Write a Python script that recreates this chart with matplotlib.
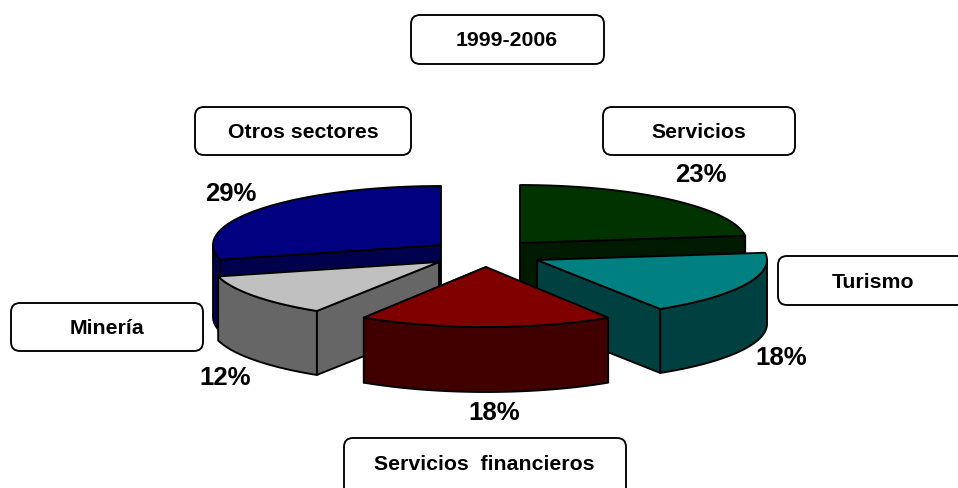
import matplotlib
matplotlib.use('Agg')
import matplotlib.pyplot as plt
import numpy as np
from matplotlib.patches import FancyBboxPatch, Polygon

plt.rcParams['font.family'] = ['Liberation Sans', 'DejaVu Sans']

# values
sectors = ['Servicios', 'Turismo', 'Servicios  financieros', 'Minería', 'Otros sectores']
shares = [23, 18, 18, 12, 29]
title = '1999-2006'

# look of each slice
top_colors = ['#003300', '#008080', '#800000', '#c0c0c0', '#000080']
side_colors = ['#001a00', '#004040', '#400000', '#666666', '#00004d']
apex_x = [520, 537, 486, 439, 441]
apex_y = [243, 260, 267, 262, 245]
radius_x = [227, 230, 228, 228, 228]
radius_y = [58, 58, 60, 58, 59]
depth = [65, 64, 65, 64, 72]
draw_order = [0, 4, 1, 3, 2]

# pixel positions of the texts
pct_pos = [(701, 175), (781, 358), (494, 413), (225, 378), (231, 194)]
box_pos = [(603, 107, 192, 48), (778, 256, 200, 49), (344, 438, 282, 70),
           (11, 303, 192, 48), (195, 107, 216, 48)]
label_pos = [(699, 133), (873, 282), (484, 465), (107, 329), (303, 133)]

fig = plt.figure(figsize=(9.58, 4.88), dpi=100)
ax = fig.add_axes([0, 0, 1, 1])
ax.set_xlim(0, 958)
ax.set_ylim(488, 0)
ax.axis('off')

lw = 1.35
ends = np.cumsum(shares) / np.sum(shares) * 2 * np.pi
starts = np.concatenate([[0], ends[:-1]])


def rim(i, a):
    return apex_x[i] + radius_x[i] * np.sin(a), apex_y[i] - radius_y[i] * np.cos(a)


def face(pts, color):
    ax.add_patch(Polygon(pts, closed=True, facecolor=color, edgecolor='black',
                         linewidth=lw, joinstyle='round'))


for i in draw_order:
    a = np.linspace(starts[i], ends[i], 80)
    x, y = rim(i, a)
    d = depth[i]
    cx, cy = apex_x[i], apex_y[i]
    # only the cut face nearest the viewer shows
    k = 0 if y[0] > y[-1] else -1
    face([(cx, cy), (x[k], y[k]), (x[k], y[k] + d), (cx, cy + d)], side_colors[i])
    # outer wall, front half of the rim only
    front = np.linspace(max(starts[i], np.pi / 2), min(ends[i], 3 * np.pi / 2), 80)
    if front[-1] > front[0]:
        wx, wy = rim(i, front)
        face(list(zip(wx, wy)) + list(zip(wx[::-1], wy[::-1] + d)), side_colors[i])
    # top
    face([(cx, cy)] + list(zip(x, y)), top_colors[i])

# title box and sector boxes
boxes = box_pos + [(411, 15, 193, 49)]
for bx, by, bw, bh in boxes:
    ax.add_patch(FancyBboxPatch((bx, by), bw, bh, boxstyle='round,pad=0,rounding_size=9',
                                facecolor='white', edgecolor='black', linewidth=lw))

ax.text(507, 41, title, ha='center', va='center', fontsize=15.3, fontweight='bold')
for name, (tx, ty) in zip(sectors, label_pos):
    ax.text(tx, ty, name, ha='center', va='center', fontsize=15.3, fontweight='bold')
for s, (tx, ty) in zip(shares, pct_pos):
    ax.text(tx, ty, f'{s}%', ha='center', va='center', fontsize=18.5, fontweight='bold')

fig.savefig('out.png', dpi=100)
